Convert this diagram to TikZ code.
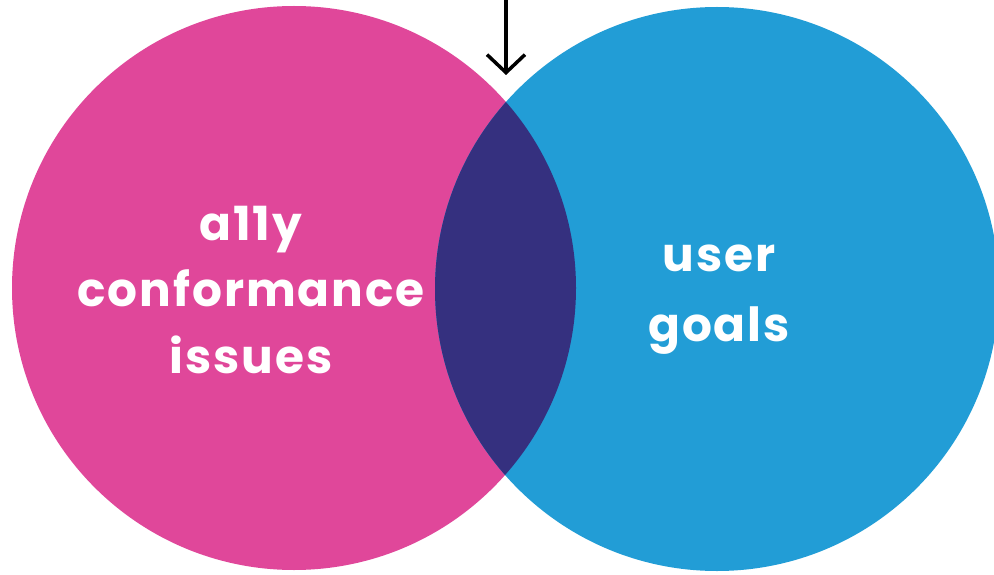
\documentclass[tikz,border=0pt]{standalone}
\usepackage{fontspec}
\setmainfont{Poppins}[BoldFont={* Bold}, BoldFeatures={LetterSpace=4}]
\usetikzlibrary{arrows.meta}
\definecolor{pinkc}{HTML}{E0479A}
\definecolor{bluec}{HTML}{229DD6}
\definecolor{overc}{HTML}{35307F}
\tikzset{
  lbl/.style={text=white, font=\fontsize{47}{63}\selectfont\bfseries, align=center, inner sep=0pt},
  pointer/.style={draw=black, line width=3.5pt, -{Straight Barb[length=18pt, width=38pt, line width=3.5pt]}}
}
\begin{document}
\begin{tikzpicture}[x=1pt, y=-1pt]
\useasboundingbox (0,0) rectangle (994,575);
\clip (0,0) rectangle (994,575);
\fill[white] (0,0) rectangle (994,575);
\fill[pinkc] (294,288) circle (282);
\fill[bluec] (717,289) circle (282);
\begin{scope}
  \clip (294,288) circle (282);
  \fill[overc] (717,289) circle (282);
\end{scope}
\node[lbl] (left) at (251,290) {a11y\\[3.5pt]conformance\\[3.5pt]issues};
\node[lbl] (right) at (719,300) {user\\[7pt]goals};
\coordinate (top) at (506,-2);
\coordinate (tip) at (506,75);
\draw[pointer] (top) -- (tip);
\end{tikzpicture}
\end{document}
